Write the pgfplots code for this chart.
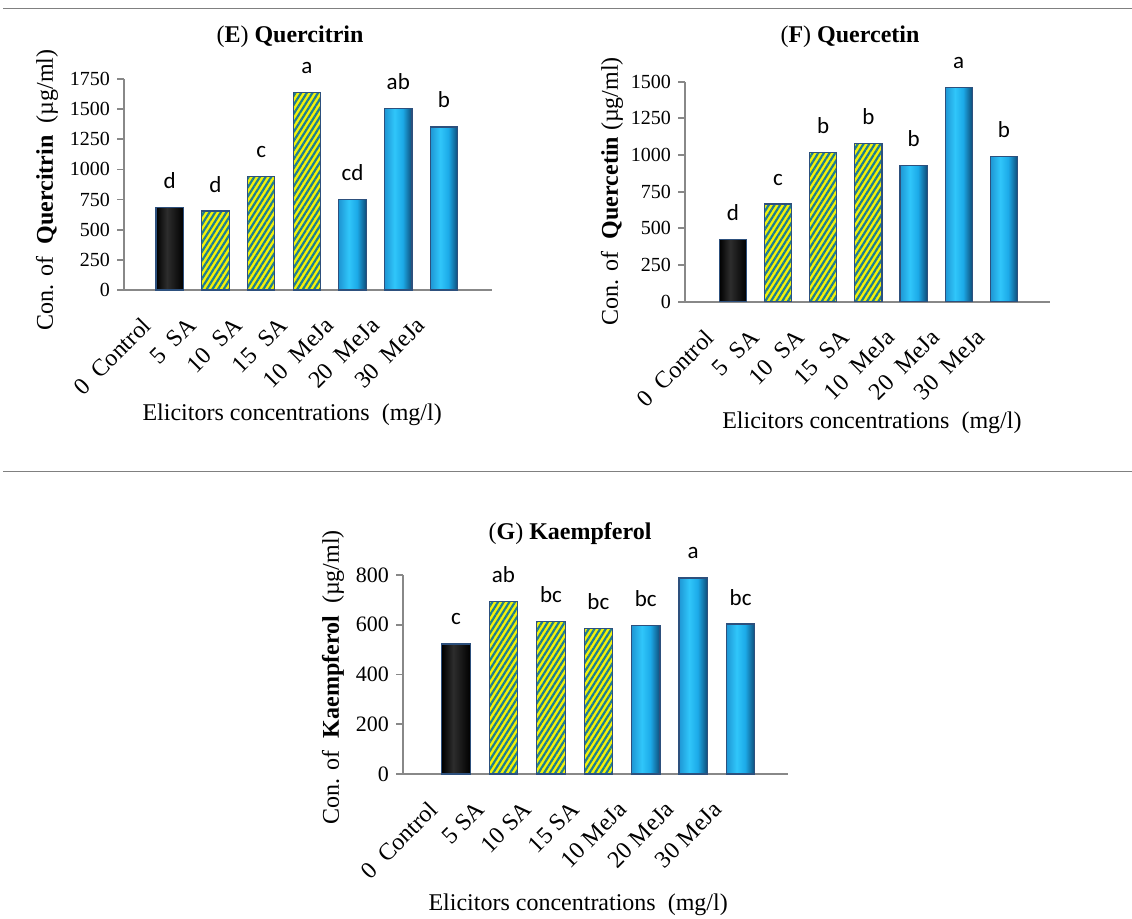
\documentclass[border=0pt]{standalone}
\usepackage{fontspec}
\setmainfont{Liberation Serif}
\newfontfamily\calibri{Carlito}
\usepackage{pgfplots}
\pgfplotsset{compat=1.18}
\usepackage{pgfplotstable}
\usetikzlibrary{patterns.meta}

\definecolor{axgray}{RGB}{136,136,136}
\definecolor{bluel}{RGB}{30,150,212}
\definecolor{bluem}{RGB}{48,198,250}
\definecolor{bluec}{RGB}{28,170,232}
\definecolor{bluer}{RGB}{14,76,120}
\definecolor{barline}{RGB}{45,80,125}
\definecolor{stripe}{RGB}{30,125,145}
\definecolor{yel}{RGB}{242,242,10}
\definecolor{sepgray}{RGB}{128,128,128}
\definecolor{blk}{RGB}{0,0,0}
\definecolor{blkm}{RGB}{45,45,45}

\pgfdeclarehorizontalshading{blueshade}{100bp}{color(0bp)=(bluel); color(25bp)=(bluel); color(43bp)=(bluem); color(58bp)=(bluec); color(75bp)=(bluer); color(100bp)=(bluer)}
\pgfdeclarehorizontalshading{blackshade}{100bp}{color(0bp)=(blk); color(25bp)=(blk); color(45bp)=(blkm); color(75bp)=(blk); color(100bp)=(blk)}

\pgfplotstableread{
x y lab
1 682 d
2 655 d
3 940 c
4 1640 a
5 752 cd
6 1504 ab
7 1352 b
}\tabE

\pgfplotstableread{
x y lab
1 425 d
2 666 c
3 1016 b
4 1080 b
5 927 b
6 1459 a
7 989 b
}\tabF

\pgfplotstableread{
x y lab
1 523 c
2 694 ab
3 612 bc
4 584 bc
5 598 bc
6 788 a
7 603 bc
}\tabG

\pgfplotsset{
 panel/.style={
  scale only axis,
  anchor=south west,
  clip=false,
  axis lines=left,
  axis line style={-, draw=axgray, line width=0.9pt},
  ymin=0,
  xtick={1,...,7},
  xtick style={draw=none},
  ytick style={draw=axgray, line width=0.9pt},
  tick align=outside,
  major tick length=3.5pt,
  /pgf/number format/assume math mode=true,
  /pgf/number format/set thousands separator={},
  yticklabel style={font=\fontsize{10}{12}\selectfont},
  xticklabel style={font=\fontsize{12}{14}\selectfont, xshift=-14.5pt, yshift=-4.5pt, rotate=45, anchor=north east},
  title style={anchor=center, yshift=-7pt, font=\fontsize{12}{14}\selectfont},
  xlabel style={anchor=center, font=\fontsize{12}{14}\selectfont},
  ylabel style={anchor=center, font=\fontsize{12}{14}\selectfont},
 },
 barbase/.style={ybar, bar width=0.6, bar shift=0pt, draw=barline, line width=0.6pt},
 ctrl/.style={barbase, shade, shading=blackshade},
 sa/.style={barbase, preaction={fill=yel}, pattern={Lines[angle=58,distance=2.4pt,line width=1.1pt]}, pattern color=stripe},
 meja/.style={barbase, shade, shading=blueshade},
 letters/.style={draw=none, mark=none, nodes near coords, point meta=explicit symbolic,
   nodes near coords style={font=\calibri\fontsize{11.5}{13}\selectfont, text=black, anchor=base, yshift=9.5pt}},
}

% one \addplot per bar, so that each bar gets its own shading
\newcommand{\bars}[1]{%
\addplot[ctrl, restrict x to domain=0.5:1.5] table[x=x,y=y] {#1};
\addplot[sa,   restrict x to domain=1.5:2.5] table[x=x,y=y] {#1};
\addplot[sa,   restrict x to domain=2.5:3.5] table[x=x,y=y] {#1};
\addplot[sa,   restrict x to domain=3.5:4.5] table[x=x,y=y] {#1};
\addplot[meja, restrict x to domain=4.5:5.5] table[x=x,y=y] {#1};
\addplot[meja, restrict x to domain=5.5:6.5] table[x=x,y=y] {#1};
\addplot[meja, restrict x to domain=6.5:7.5] table[x=x,y=y] {#1};
\addplot[letters] table[x=x,y=y,meta=lab] {#1};
}

\begin{document}
\begin{tikzpicture}
\useasboundingbox (0,0) rectangle (566pt,-459.5pt);
\draw[sepgray, line width=0.75pt] (1.5pt,-4.25pt) -- (566pt,-4.25pt);
\draw[sepgray, line width=0.75pt] (1.5pt,-235.8pt) -- (566pt,-235.8pt);

% (E)
\begin{axis}[panel,
  at={(62pt,-145pt)}, width=184pt, height=105.5pt,
  xmin=0, xmax=8.05, ymax=1750, ytick={0,250,...,1750},
  xticklabels={{0\hspace{0.5em}Control},{5\hspace{0.5em}SA},{10\hspace{0.5em}SA},{15\hspace{0.5em}SA},{10\hspace{0.5em}MeJa},{20\hspace{0.5em}MeJa},{30\hspace{0.5em}MeJa}},
  title={(\textbf{E}) \textbf{Quercitrin}},
  title style={at={(axis description cs:0.451,1.2085)}},
  xlabel={Elicitors concentrations\hspace{0.5em}(mg/l)},
  xlabel style={at={(axis description cs:0.457,-0.59)}},
  ylabel={Con. of\hspace{0.5em}\textbf{Quercitrin}\hspace{0.5em}(µg/ml)},
  ylabel style={at={(axis description cs:-0.209,0.474)}},
]
\bars{\tabE}
\end{axis}

% (F)
\begin{axis}[panel,
  at={(342.5pt,-150.85pt)}, width=182.5pt, height=110pt,
  xmin=-0.06, xmax=8.02, ymax=1500, ytick={0,250,...,1500},
  xticklabels={{0\hspace{0.5em}Control},{5\hspace{0.5em}SA},{10\hspace{0.5em}SA},{15\hspace{0.5em}SA},{10\hspace{0.5em}MeJa},{20\hspace{0.5em}MeJa},{30\hspace{0.5em}MeJa}},
  title={(\textbf{F}) \textbf{Quercetin}},
  title style={at={(axis description cs:0.452,1.212)}},
  xlabel={Elicitors concentrations\hspace{0.5em}(mg/l)},
  xlabel style={at={(axis description cs:0.512,-0.551)}},
  ylabel={Con. of\hspace{0.5em}\textbf{Quercetin} (µg/ml)},
  ylabel style={at={(axis description cs:-0.2,0.503)}},
]
\bars{\tabF}
\end{axis}

% (G)
\begin{axis}[panel,
  at={(201.5pt,-387pt)}, width=192.5pt, height=99.5pt,
  xmin=-0.12, xmax=8.0, ymax=800, ytick={0,200,...,800},
  yticklabel style={font=\fontsize{11}{13}\selectfont},
  xticklabels={{0\hspace{0.5em}Control},{5 SA},{10 SA},{15 SA},{10 MeJa},{20 MeJa},{30 MeJa}},
  title={(\textbf{G}) \textbf{Kaempferol}},
  title style={at={(axis description cs:0.434,1.216)}},
  xlabel={Elicitors concentrations\hspace{0.5em}(mg/l)},
  xlabel style={at={(axis description cs:0.455,-0.658)}},
  ylabel={Con. of\hspace{0.5em}\textbf{Kaempferol}\hspace{0.5em}(µg/ml)},
  ylabel style={at={(axis description cs:-0.182,0.487)}},
]
\bars{\tabG}
\end{axis}
\end{tikzpicture}
\end{document}
